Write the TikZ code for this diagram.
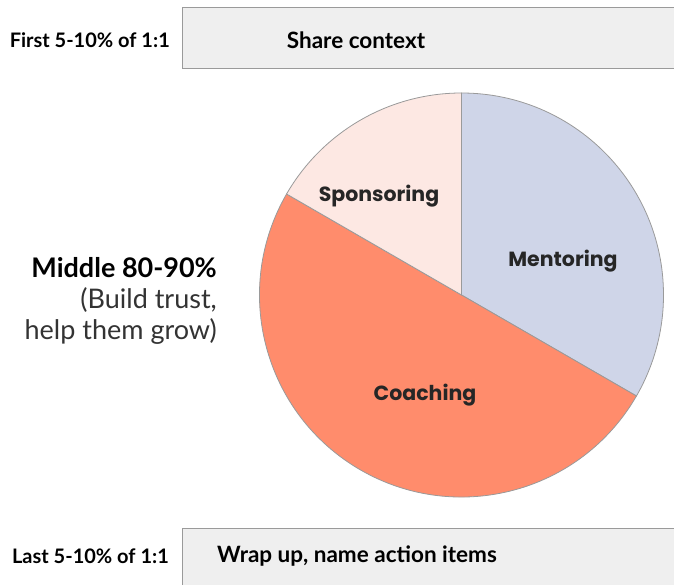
\documentclass[tikz,border=0pt]{standalone}
\usepackage{fontspec}
\setmainfont{Lato}
\newfontfamily\piefont{Poppins}
\begin{document}
\begin{tikzpicture}[x=1pt,y=1pt,
  phasebox/.style={fill=boxgray,draw=edgegray,line width=1pt},
  phaselabel/.style={anchor=east,inner sep=0pt,font=\fontsize{20}{24}\selectfont\bfseries,text=black},
  midlabel/.style={anchor=east,inner sep=0pt,font=\fontsize{27}{30}\selectfont\bfseries,text=black},
  midnote/.style={anchor=east,inner sep=0pt,font=\fontsize{27}{30}\selectfont,text=black!80},
  boxtext/.style={inner sep=0pt,font=\fontsize{22.5}{26}\selectfont\bfseries,text=black},
  slice/.style={draw=edgegray,line width=0.8pt},
  slicelabel/.style={inner sep=0pt,font=\piefont\fontsize{20.5}{24}\selectfont\bfseries,text=black!85}]
\definecolor{boxgray}{HTML}{EFEFEF}
\definecolor{edgegray}{HTML}{9A9A9A}
\definecolor{mentor}{HTML}{CFD5E8}
\definecolor{coach}{HTML}{FF8C6C}
\definecolor{sponsor}{HTML}{FDE8E3}
\useasboundingbox (0,0) rectangle (674,-585);
\clip (0,0) rectangle (674,-585);

% phase boxes (running past the right edge)
\draw[phasebox] (182,-8) rectangle (690,-69);
\draw[phasebox] (182,-528) rectangle (690,-600);
\node[boxtext] (share) at (356,-40) {Share context};
\node[boxtext] (wrap) at (357,-556) {Wrap up, name action items};

% left-hand phase labels
\node[phaselabel] (first) at (170,-40) {First 5-10\% of 1:1};
\node[phaselabel] (last) at (169,-556) {Last 5-10\% of 1:1};
\node[midlabel] (middle) at (217,-268) {Middle 80-90\%};
\node[midnote] (mid2) at (217,-300) {(Build trust,};
\node[midnote] (mid3) at (217,-331) {help them grow)};

% pie chart
\coordinate (c) at (461.5,-295);
\def\rad{202}
\draw[slice,fill=mentor] (c) -- ++(90:\rad) arc[start angle=90,end angle=-30,radius=\rad] -- cycle;
\draw[slice,fill=coach] (c) -- ++(-30:\rad) arc[start angle=-30,end angle=-210,radius=\rad] -- cycle;
\draw[slice,fill=sponsor] (c) -- ++(150:\rad) arc[start angle=150,end angle=90,radius=\rad] -- cycle;
\node[slicelabel] (spons) at (379,-196) {Sponsoring};
\node[slicelabel] (ment) at (563,-261) {Mentoring};
\node[slicelabel] (coachl) at (425,-395) {Coaching};
\end{tikzpicture}
\end{document}
